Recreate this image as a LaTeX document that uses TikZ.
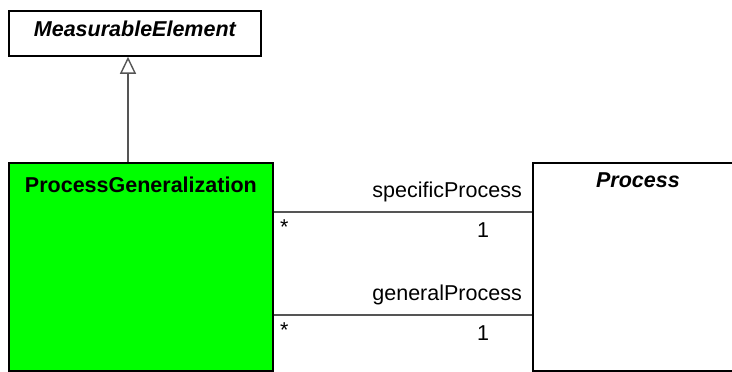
\documentclass[tikz,border=0pt]{standalone}
\usepackage{fontspec}
\setmainfont{Liberation Sans}
\usetikzlibrary{arrows.meta,positioning}
\definecolor{verde}{HTML}{00FF00}
\definecolor{linea}{HTML}{555555}

\begin{document}
\begin{tikzpicture}[x=1pt, y=-1pt, >=Stealth,
    font=\fontsize{21.5}{25}\selectfont,
    clase/.style={draw, line width=1.8pt, anchor=north west, inner sep=0pt},
    assoc/.style={draw=linea, line width=1.4pt},
    rol/.style={anchor=base east, inner sep=0pt},
    mult/.style={anchor=base, inner sep=0pt}]

\useasboundingbox (0,0) rectangle (732,372);

% Clases
\node[clase, minimum width=252pt, minimum height=45pt] (me) at (8,10) {};
\node[anchor=base, inner sep=0pt, font=\fontsize{21.5}{25}\selectfont\bfseries\itshape]
    (meT) at ([yshift=20pt]me.south) {MeasurableElement};

\node[clase, fill=verde, minimum width=264pt, minimum height=208pt] (pg) at (8,162) {};
\node[anchor=base, inner sep=0pt, font=\fontsize{21.5}{25}\selectfont\bfseries]
    (pgT) at ([yshift=-30pt]pg.north) {ProcessGeneralization};

\node[clase, minimum width=210pt, minimum height=208pt] (proc) at (532,162) {};
\node[anchor=base, inner sep=0pt, font=\fontsize{21.5}{25}\selectfont\bfseries\itshape]
    (procT) at ([yshift=-25pt]proc.north) {Process};

% Generalizacion
\coordinate (g) at ([xshift=120pt]pg.north west);
\draw[assoc, -{Triangle[open, length=17pt, width=16pt, line width=1.4pt]}]
    (g) -- (me.south -| g);

% Asociaciones
\coordinate (h1) at (0,212);
\coordinate (h2) at (0,315);
\foreach \h/\r in {h1/specificProcess, h2/generalProcess}{
    \draw[assoc] (pg.east |- \h) -- (proc.west |- \h);
    \node[rol] at ([xshift=-10pt, yshift=15pt]proc.west |- \h) {\r};
    \node[anchor=base west, inner sep=0pt] at ([xshift=6pt, yshift=-22pt]pg.east |- \h) {*};
    \node[mult] at ([xshift=-49pt, yshift=-25pt]proc.west |- \h) {1};
}

\end{tikzpicture}
\end{document}
